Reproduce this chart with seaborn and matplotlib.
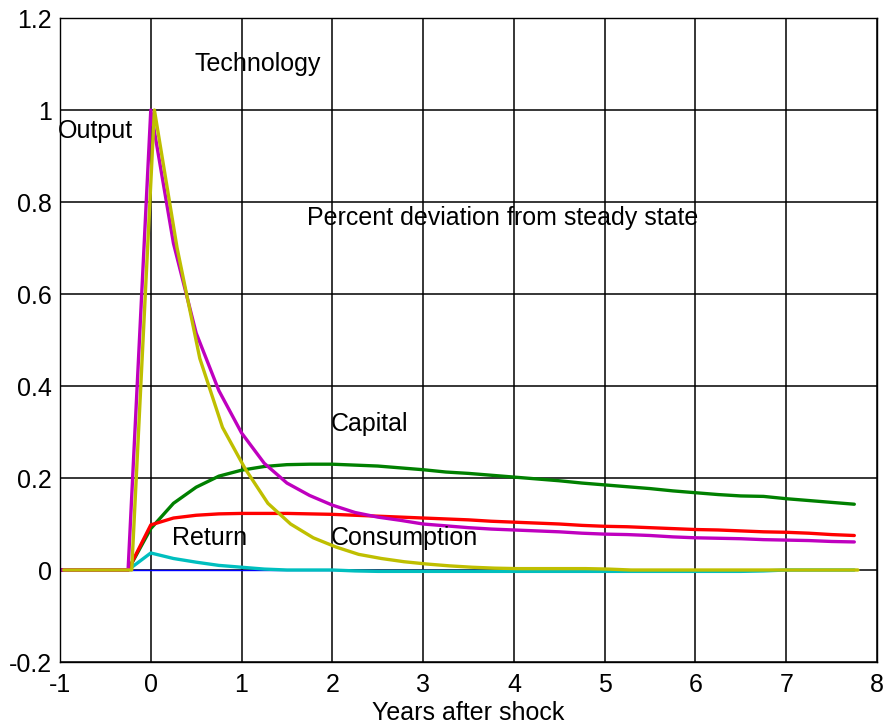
import numpy as np
import pandas as pd
import seaborn as sns
import matplotlib.pyplot as plt

sns.set_style("white")
plt.rcParams["font.family"] = ["Liberation Sans", "DejaVu Sans"]
plt.rcParams["text.color"] = "k"
plt.rcParams["axes.labelcolor"] = "k"
plt.rcParams["xtick.color"] = "k"
plt.rcParams["ytick.color"] = "k"

# quarters from -1 to 7.75 years
years = np.arange(-1, 8, 0.25)
pre = [0, 0, 0, 0]

output = pre + [1.00, 0.71, 0.515, 0.39, 0.298, 0.232, 0.189, 0.162, 0.141, 0.125,
                0.115, 0.108, 0.100, 0.096, 0.092, 0.089, 0.087, 0.085, 0.083, 0.080,
                0.078, 0.077, 0.075, 0.072, 0.070, 0.069, 0.068, 0.066, 0.065, 0.064,
                0.062, 0.061]
technology = pre + [1.00, 0.70, 0.46, 0.31, 0.22, 0.145, 0.10, 0.07, 0.05, 0.034,
                    0.025, 0.018, 0.013, 0.009, 0.006, 0.004, 0.003, 0.003, 0.003, 0.003,
                    0.002, 0, 0, 0, 0, 0, 0, 0, 0, 0, 0, 0]
capital = pre + [0.09, 0.145, 0.18, 0.204, 0.217, 0.225, 0.229, 0.230, 0.230, 0.228,
                 0.226, 0.222, 0.218, 0.213, 0.210, 0.206, 0.202, 0.198, 0.194, 0.189,
                 0.185, 0.181, 0.177, 0.172, 0.168, 0.164, 0.161, 0.160, 0.155, 0.151,
                 0.147, 0.143]
consumption = pre + [0.098, 0.113, 0.119, 0.122, 0.123, 0.123, 0.123, 0.122, 0.121, 0.119,
                     0.117, 0.115, 0.113, 0.111, 0.109, 0.106, 0.104, 0.102, 0.100, 0.097,
                     0.095, 0.094, 0.092, 0.090, 0.088, 0.087, 0.085, 0.083, 0.082, 0.080,
                     0.077, 0.075]
ret = pre + [0.037, 0.025, 0.017, 0.010, 0.006, 0.002, 0.0, 0.0, 0.0, -0.002,
             -0.003, -0.003, -0.003, -0.003, -0.003, -0.003, -0.003, -0.003, -0.003, -0.003,
             -0.003, -0.003, -0.003, -0.003, -0.003, -0.003, -0.003, -0.002, 0.0, 0.0,
             0.0, 0.0]
baseline = [0] * len(years)
tech_lag = 0.04  # technology line drawn slightly to the right in the original

xticks = [-1, 0, 1, 2, 3, 4, 5, 6, 7, 8]
yticks = [-0.2, 0, 0.2, 0.4, 0.6, 0.8, 1.0, 1.2]
ytick_labels = ["-0.2", "0", "0.2", "0.4", "0.6", "0.8", "1", "1.2"]

fig = plt.figure(figsize=(8.85, 7.28), dpi=100)
ax = fig.add_axes([60 / 885, 1 - 662 / 728, 817 / 885, 644 / 728])

sns.lineplot(x=years[3:], y=baseline[3:], color="#0000FF", lw=1, ax=ax)
sns.lineplot(x=years, y=ret, color="#00BFBF", lw=2.4, ax=ax)
sns.lineplot(x=years, y=capital, color="#008000", lw=2.4, ax=ax)
sns.lineplot(x=years, y=consumption, color="#FF0000", lw=2.4, ax=ax)
sns.lineplot(x=years, y=output, color="#BF00BF", lw=2.4, ax=ax)
sns.lineplot(x=years + tech_lag, y=technology, color="#BFBF00", lw=2.4, ax=ax)

fs = 18
ax.text(0.48, 1.10, "Technology", fontsize=fs, va="center")
ax.text(-1.02, 0.954, "Output", fontsize=fs, va="center")
ax.text(1.72, 0.765, "Percent deviation from steady state", fontsize=fs, va="center")
ax.text(1.98, 0.317, "Capital", fontsize=fs, va="center")
ax.text(0.23, 0.07, "Return", fontsize=fs, va="center")
ax.text(1.98, 0.07, "Consumption", fontsize=fs, va="center")

ax.set_xlim(-1, 8)
ax.set_ylim(-0.2, 1.2)
ax.set_xticks(xticks)
ax.set_xticklabels([str(t) for t in xticks])
ax.set_yticks(yticks)
ax.set_yticklabels(ytick_labels)
ax.tick_params(labelsize=fs, direction="in", length=5, color="k", pad=6)
ax.tick_params(axis="x", pad=8)
ax.grid(True, color="k", lw=1.1)
ax.set_axisbelow(True)
for s in ax.spines.values():
    s.set_color("k")
    s.set_linewidth(1)
ax.set_xlabel("Years after shock", fontsize=fs, labelpad=3)
ax.set_ylabel("")

fig.savefig("out.png", dpi=100)
